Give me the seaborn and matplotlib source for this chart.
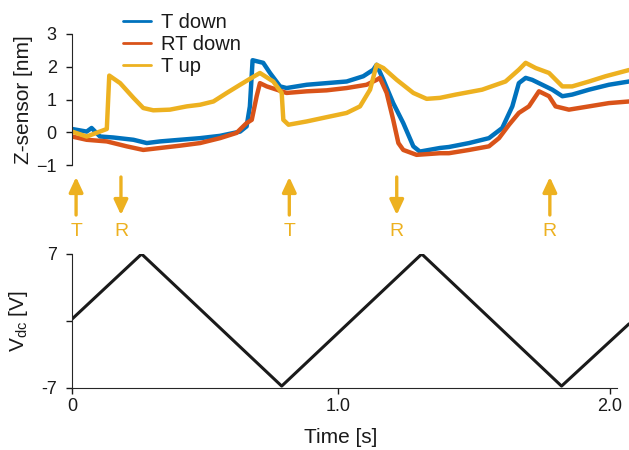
import matplotlib
matplotlib.use("Agg")
import matplotlib.pyplot as plt
import numpy as np
import pandas as pd
import seaborn as sns

# Z-sensor traces (time in s, height in nm)
t_down_t = [0.022, 0.076, 0.094, 0.125, 0.174, 0.248, 0.297, 0.346, 0.419, 0.493,
            0.566, 0.640, 0.664, 0.676, 0.686, 0.725, 0.750, 0.787, 0.811, 0.885,
            0.958, 1.032, 1.093, 1.130, 1.142, 1.167, 1.203, 1.240, 1.277, 1.301,
            1.375, 1.408, 1.482, 1.555, 1.604, 1.641, 1.665, 1.690, 1.714, 1.751,
            1.788, 1.825, 1.861, 1.923, 1.996, 2.070]
t_down_z = [0.10, 0.02, 0.13, -0.13, -0.16, -0.23, -0.33, -0.28, -0.23, -0.18,
            -0.11, 0.02, 0.18, 0.79, 2.20, 2.12, 1.81, 1.40, 1.35, 1.45,
            1.50, 1.55, 1.71, 1.91, 2.06, 1.60, 0.89, 0.28, -0.43, -0.59,
            -0.48, -0.45, -0.33, -0.18, 0.13, 0.79, 1.50, 1.66, 1.60, 1.45,
            1.30, 1.10, 1.15, 1.30, 1.45, 1.55]

rt_down_t = [0.022, 0.076, 0.150, 0.223, 0.284, 0.346, 0.419, 0.493, 0.566, 0.627,
             0.664, 0.683, 0.701, 0.713, 0.738, 0.775, 0.811, 0.885, 0.958, 1.032,
             1.105, 1.142, 1.154, 1.179, 1.203, 1.222, 1.240, 1.289, 1.375, 1.408,
             1.482, 1.555, 1.592, 1.629, 1.665, 1.702, 1.739, 1.776, 1.800, 1.849,
             1.923, 1.996, 2.070]
rt_down_z = [-0.13, -0.23, -0.28, -0.43, -0.54, -0.48, -0.41, -0.33, -0.18, -0.02,
             0.28, 0.38, 1.10, 1.50, 1.40, 1.30, 1.20, 1.25, 1.28, 1.35,
             1.45, 1.60, 1.66, 1.20, 0.38, -0.33, -0.54, -0.69, -0.64, -0.64,
             -0.54, -0.43, -0.18, 0.23, 0.59, 0.79, 1.25, 1.10, 0.79, 0.69,
             0.79, 0.89, 0.94]

t_up_t = [0.022, 0.076, 0.150, 0.159, 0.199, 0.248, 0.284, 0.321, 0.382, 0.444,
          0.493, 0.542, 0.591, 0.640, 0.676, 0.713, 0.762, 0.793, 0.799, 0.818,
          0.885, 0.958, 1.032, 1.081, 1.118, 1.142, 1.167, 1.216, 1.277, 1.326,
          1.375, 1.433, 1.530, 1.616, 1.665, 1.690, 1.727, 1.776, 1.825, 1.861,
          1.923, 1.984, 2.070]
t_up_z = [0.02, -0.13, 0.10, 1.73, 1.50, 1.05, 0.74, 0.67, 0.69, 0.79,
          0.84, 0.94, 1.20, 1.45, 1.63, 1.81, 1.55, 1.20, 0.38, 0.23,
          0.33, 0.46, 0.59, 0.79, 1.30, 2.06, 1.96, 1.60, 1.20, 1.02,
          1.05, 1.15, 1.30, 1.55, 1.91, 2.12, 1.96, 1.81, 1.40, 1.40,
          1.55, 1.71, 1.90]

# DC bias ramp
vdc_t = [0.022, 0.278, 0.793, 1.308, 1.822, 2.070]
vdc_v = [0.2, 7.0, -6.8, 7.0, -6.8, -0.3]

# event markers
event_t = [0.037, 0.202, 0.821, 1.216, 1.779]
event_dir = ["up", "down", "up", "down", "up"]
event_label = ["T", "R", "T", "R", "R"]

series_names = ["T down", "RT down", "T up"]
colors = ["#0072BD", "#D95319", "#EDB120"]

sns.set_style("ticks")
plt.rcParams["font.family"] = ["Liberation Sans", "DejaVu Sans"]
plt.rcParams["mathtext.fontset"] = "custom"
plt.rcParams["mathtext.rm"] = "Liberation Sans"
plt.rcParams["text.color"] = "#1a1a1a"
plt.rcParams["axes.labelcolor"] = "#1a1a1a"
plt.rcParams["xtick.color"] = "#1a1a1a"
plt.rcParams["ytick.color"] = "#1a1a1a"

W, H = 629, 450
fig = plt.figure(figsize=(W / 100, H / 100), dpi=100)


def px_axes(left, top, right, bottom):
    return fig.add_axes([left / W, 1 - bottom / H, (right - left) / W, (bottom - top) / H])


xlim = (0.022, 2.07)

# top panel
ax_z = px_axes(72, 34, 629, 165)
df = pd.concat([
    pd.DataFrame({"t": t_down_t, "z": t_down_z, "series": series_names[0]}),
    pd.DataFrame({"t": rt_down_t, "z": rt_down_z, "series": series_names[1]}),
    pd.DataFrame({"t": t_up_t, "z": t_up_z, "series": series_names[2]}),
])
sns.lineplot(data=df, x="t", y="z", hue="series", palette=colors, estimator=None,
             sort=False, lw=3.2, ax=ax_z, legend=False)
ax_z.set_xlim(*xlim)
ax_z.set_ylim(-1, 3)
ax_z.set_yticks([-1, 0, 1, 2, 3])
ax_z.set_ylabel("Z-sensor [nm]", fontsize=15, labelpad=2)
ax_z.set_xlabel("")
ax_z.set_xticks([])
for s in ["top", "right", "bottom"]:
    ax_z.spines[s].set_visible(False)
ax_z.tick_params(axis="y", labelsize=13, length=4, width=1, pad=7)

handles = [plt.Line2D([], [], color=c, lw=2) for c in colors]
fig.legend(handles, series_names, loc="upper left",
           bbox_to_anchor=(123 / W, 1 - 13 / H), frameon=False, fontsize=14.5,
           handlelength=1.4, handletextpad=0.5, labelspacing=0.15,
           borderpad=0, borderaxespad=0)

# middle: arrows
ax_e = px_axes(72, 168, 629, 250)
ax_e.set_xlim(*xlim)
ax_e.set_ylim(250, 168)
ax_e.axis("off")
for t, d, lab in zip(event_t, event_dir, event_label):
    tip, tail = (177, 215) if d == "up" else (215, 177)
    ax_e.annotate("", xy=(t, tip), xytext=(t, tail),
                  arrowprops=dict(arrowstyle="-|>,head_length=0.9,head_width=0.42",
                                  color=colors[2], lw=2.4, shrinkA=0, shrinkB=0))
    ax_e.text(t, 231, lab, ha="center", va="center", fontsize=14, color=colors[2])

# bottom panel
ax_v = px_axes(72, 254, 629, 388)
sns.lineplot(x=vdc_t, y=vdc_v, color="#1a1a1a", lw=2.2, ax=ax_v)
ax_v.set_xlim(*xlim)
ax_v.set_ylim(-7, 7)
ax_v.set_yticks([-7, 0, 7], ["-7", "", "7"])
ax_v.set_xticks([0.022, 1.0, 2.0], ["0", "1.0", "2.0"])
ax_v.spines["bottom"].set_bounds(0.022, 2.025)
for s in ["top", "right"]:
    ax_v.spines[s].set_visible(False)
ax_v.tick_params(axis="y", labelsize=13, length=4, width=1, pad=7)
ax_v.tick_params(axis="x", labelsize=13, length=4, width=1, pad=3)
ax_v.set_ylabel(r"V$_\mathregular{dc}$ [V]", fontsize=15, labelpad=8)
ax_v.set_xlabel("Time [s]", fontsize=15)
ax_v.xaxis.set_label_coords(0.482, -0.30)

fig.savefig("out.png", dpi=100)
